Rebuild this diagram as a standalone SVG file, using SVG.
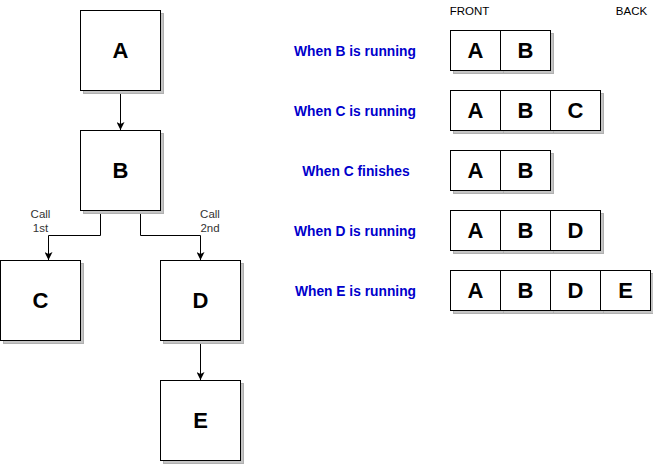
<svg xmlns="http://www.w3.org/2000/svg" width="653" height="464" viewBox="0 0 653 464">
<style>
.box{fill:#fff;stroke:#000;stroke-width:1}
.sh{fill:#c4c4c4;stroke:#b0b0b0;stroke-width:1}
.big{font-family:"Liberation Sans",Arial,sans-serif;font-weight:bold;font-size:22px;text-anchor:middle;fill:#000}
.lbl{font-family:"Liberation Sans",Arial,sans-serif;font-weight:bold;font-size:13.8px;text-anchor:middle;fill:#0000CC}
.sm{font-family:"Liberation Sans",Arial,sans-serif;font-size:11.5px;text-anchor:middle;fill:#000}
.call{font-family:"Liberation Sans",Arial,sans-serif;font-size:11.5px;text-anchor:middle;fill:#333}
.con{fill:none;stroke:#000;stroke-width:1}
</style>
<defs>
<marker id="arr" viewBox="0 0 8 8" refX="8" refY="4" markerWidth="8" markerHeight="8" markerUnits="userSpaceOnUse" orient="auto">
<path d="M0,0 L8,4 L0,8 L2,4 Z" fill="#000"/>
</marker>
</defs>
<rect width="653" height="464" fill="#fff"/>

<g id="connectors">
<path class="con" d="M120.5,90.5 V130" marker-end="url(#arr)"/>
<path class="con" d="M100.5,210.5 V235.5 H48.5 V260" marker-end="url(#arr)"/>
<path class="con" d="M140.5,210.5 V235.5 H200.5 V260" marker-end="url(#arr)"/>
<path class="con" d="M200.5,340.5 V380" marker-end="url(#arr)"/>
<text class="call" x="40.5" y="218">Call</text>
<text class="call" x="40.5" y="232">1st</text>
<text class="call" x="210" y="218">Call</text>
<text class="call" x="210" y="232">2nd</text>
</g>

<g id="node-A">
<rect class="sh" x="83.5" y="13.5" width="80" height="80"/>
<rect class="box" x="80.5" y="10.5" width="80" height="80"/>
<text class="big" x="120.5" y="58">A</text>
</g>
<g id="node-B">
<rect class="sh" x="83.5" y="133.5" width="80" height="80"/>
<rect class="box" x="80.5" y="130.5" width="80" height="80"/>
<text class="big" x="120.5" y="178">B</text>
</g>
<g id="node-C">
<rect class="sh" x="3.5" y="263.5" width="80" height="80"/>
<rect class="box" x="0.5" y="260.5" width="80" height="80"/>
<text class="big" x="40.5" y="308">C</text>
</g>
<g id="node-D">
<rect class="sh" x="163.5" y="263.5" width="80" height="80"/>
<rect class="box" x="160.5" y="260.5" width="80" height="80"/>
<text class="big" x="200.5" y="308">D</text>
</g>
<g id="node-E">
<rect class="sh" x="163.5" y="383.5" width="80" height="80"/>
<rect class="box" x="160.5" y="380.5" width="80" height="80"/>
<text class="big" x="200.5" y="428">E</text>
</g>

<g id="headers">
<text class="sm" x="469.5" y="15">FRONT</text>
<text class="sm" x="631.5" y="15">BACK</text>
</g>

<g id="row-1">
<text class="lbl" x="355" y="55.5">When B is running</text>
<rect class="sh" x="453.5" y="33.5" width="50" height="40"/>
<rect class="sh" x="503.5" y="33.5" width="50" height="40"/>
<rect class="box" x="450.5" y="30.5" width="50" height="40"/>
<rect class="box" x="500.5" y="30.5" width="50" height="40"/>
<text class="big" x="475.5" y="58">A</text>
<text class="big" x="525.5" y="58">B</text>
</g>

<g id="row-2">
<text class="lbl" x="355" y="115.5">When C is running</text>
<rect class="sh" x="453.5" y="93.5" width="50" height="40"/>
<rect class="sh" x="503.5" y="93.5" width="50" height="40"/>
<rect class="sh" x="553.5" y="93.5" width="50" height="40"/>
<rect class="box" x="450.5" y="90.5" width="50" height="40"/>
<rect class="box" x="500.5" y="90.5" width="50" height="40"/>
<rect class="box" x="550.5" y="90.5" width="50" height="40"/>
<text class="big" x="475.5" y="118">A</text>
<text class="big" x="525.5" y="118">B</text>
<text class="big" x="575.5" y="118">C</text>
</g>

<g id="row-3">
<text class="lbl" x="356" y="175.5">When C finishes</text>
<rect class="sh" x="453.5" y="153.5" width="50" height="40"/>
<rect class="sh" x="503.5" y="153.5" width="50" height="40"/>
<rect class="box" x="450.5" y="150.5" width="50" height="40"/>
<rect class="box" x="500.5" y="150.5" width="50" height="40"/>
<text class="big" x="475.5" y="178">A</text>
<text class="big" x="525.5" y="178">B</text>
</g>

<g id="row-4">
<text class="lbl" x="355" y="235.5">When D is running</text>
<rect class="sh" x="453.5" y="213.5" width="50" height="40"/>
<rect class="sh" x="503.5" y="213.5" width="50" height="40"/>
<rect class="sh" x="553.5" y="213.5" width="50" height="40"/>
<rect class="box" x="450.5" y="210.5" width="50" height="40"/>
<rect class="box" x="500.5" y="210.5" width="50" height="40"/>
<rect class="box" x="550.5" y="210.5" width="50" height="40"/>
<text class="big" x="475.5" y="238">A</text>
<text class="big" x="525.5" y="238">B</text>
<text class="big" x="575.5" y="238">D</text>
</g>

<g id="row-5">
<text class="lbl" x="355.5" y="295.5">When E is running</text>
<rect class="sh" x="453.5" y="273.5" width="50" height="40"/>
<rect class="sh" x="503.5" y="273.5" width="50" height="40"/>
<rect class="sh" x="553.5" y="273.5" width="50" height="40"/>
<rect class="sh" x="603.5" y="273.5" width="50" height="40"/>
<rect class="box" x="450.5" y="270.5" width="50" height="40"/>
<rect class="box" x="500.5" y="270.5" width="50" height="40"/>
<rect class="box" x="550.5" y="270.5" width="50" height="40"/>
<rect class="box" x="600.5" y="270.5" width="50" height="40"/>
<text class="big" x="475.5" y="298">A</text>
<text class="big" x="525.5" y="298">B</text>
<text class="big" x="575.5" y="298">D</text>
<text class="big" x="625.5" y="298">E</text>
</g>
</svg>
